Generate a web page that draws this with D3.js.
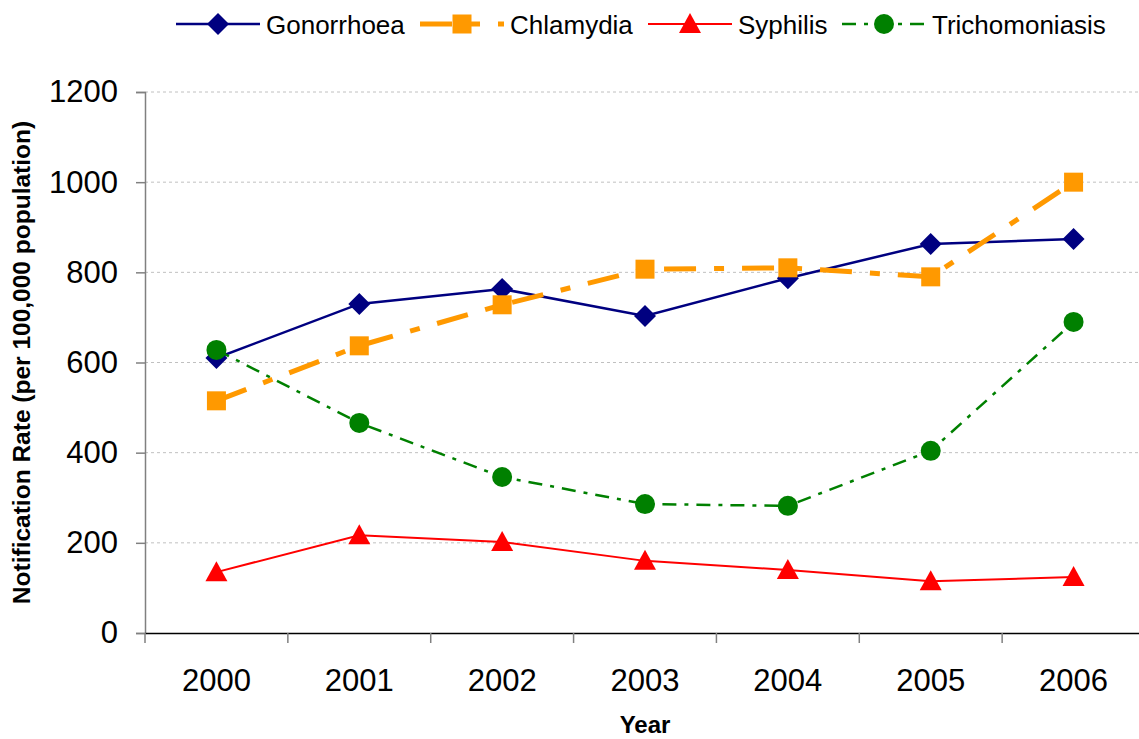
<!DOCTYPE html>
<html lang="en">
<head>
<meta charset="UTF-8">
<title>Notification rates</title>
<script src="https://d3js.org/d3.v7.min.js"></script>
<style>
  body { margin: 0; background: #fff; }
  text { font-family: "Liberation Sans", Arial, sans-serif; }
</style>
</head>
<body>
<div id="chart"></div>
<script>
// data
var years = ["2000", "2001", "2002", "2003", "2004", "2005", "2006"];
var gonorrhoea = [610, 730, 763, 703, 787, 863, 874];
var chlamydia = [515, 637, 728, 807, 810, 790, 1000];
var syphilis = [135, 217, 202, 160, 140, 115, 124];
var trichomoniasis = [628, 466, 346, 286, 282, 404, 690];
var yTicks = [0, 200, 400, 600, 800, 1000, 1200];

var series = [
  { name: "Gonorrhoea", values: gonorrhoea, color: "#000080", width: 2.5, dash: null, marker: "diamond" },
  { name: "Chlamydia", values: chlamydia, color: "#FF9900", width: 5, dash: "32,18,10,18", marker: "square" },
  { name: "Syphilis", values: syphilis, color: "#FF0000", width: 2, dash: null, marker: "triangle" },
  { name: "Trichomoniasis", values: trichomoniasis, color: "#008000", width: 2.5, dash: "14,8,4,8", marker: "circle" }
];

var W = 1139, H = 739;
var margin = { top: 92, right: -6, bottom: 106, left: 145 };

var svg = d3.select("#chart").append("svg")
  .attr("width", W).attr("height", H);

var x = d3.scaleBand().domain(years).range([margin.left, W - margin.right]);
var y = d3.scaleLinear().domain([0, 1200]).range([H - margin.bottom, margin.top]);

// gridlines
svg.append("g").selectAll("line")
  .data(yTicks.filter(function (d) { return d > 0; }))
  .enter().append("line")
  .attr("x1", margin.left).attr("x2", W)
  .attr("y1", function (d) { return y(d); }).attr("y2", function (d) { return y(d); })
  .attr("stroke", "#c0c0c0").attr("stroke-dasharray", "3,3").attr("stroke-width", 1);

// y axis
var yAxis = svg.append("g")
  .attr("transform", "translate(" + margin.left + ",0)")
  .call(d3.axisLeft(y).tickValues(yTicks).tickSize(9).tickPadding(18).tickFormat(d3.format("d")));
yAxis.select(".domain").attr("stroke", "#808080").attr("stroke-width", 1.5);
yAxis.selectAll(".tick line").attr("stroke", "#808080").attr("stroke-width", 1.5);
yAxis.selectAll(".tick text").attr("font-size", 31).attr("fill", "#000")
  .attr("font-family", "Liberation Sans, Arial, sans-serif");

// x axis
var xAxis = svg.append("g")
  .attr("transform", "translate(0," + y(0) + ")")
  .call(d3.axisBottom(x).tickSize(0).tickPadding(36));
xAxis.select(".domain").attr("stroke", "#000").attr("stroke-width", 1.5);
xAxis.selectAll(".tick text").attr("font-size", 31).attr("fill", "#000")
  .attr("font-family", "Liberation Sans, Arial, sans-serif");
// category boundary ticks
svg.append("g").selectAll("line")
  .data(years)
  .enter().append("line")
  .attr("x1", function (d) { return x(d); }).attr("x2", function (d) { return x(d); })
  .attr("y1", y(0)).attr("y2", y(0) + 10)
  .attr("stroke", "#808080").attr("stroke-width", 1.5);

// axis titles
svg.append("text")
  .attr("transform", "translate(30," + ((y(0) + y(1200)) / 2) + ") rotate(-90)")
  .attr("text-anchor", "middle")
  .attr("font-size", 24.5).attr("font-weight", "bold")
  .text("Notification Rate (per 100,000 population)");
svg.append("text")
  .attr("x", 645).attr("y", 733)
  .attr("text-anchor", "middle")
  .attr("font-size", 24).attr("font-weight", "bold")
  .text("Year");

function drawMarker(g, type, cx, cy, color) {
  if (type === "diamond") {
    g.append("path").attr("d", "M" + cx + "," + (cy - 11) + "L" + (cx + 11) + "," + cy + "L" + cx + "," + (cy + 11) + "L" + (cx - 11) + "," + cy + "Z")
      .attr("fill", color);
  } else if (type === "square") {
    g.append("rect").attr("x", cx - 9.5).attr("y", cy - 9.5).attr("width", 19).attr("height", 19).attr("fill", color);
  } else if (type === "triangle") {
    g.append("path").attr("d", "M" + cx + "," + (cy - 11) + "L" + (cx + 11) + "," + (cy + 9) + "L" + (cx - 11) + "," + (cy + 9) + "Z")
      .attr("fill", color);
  } else {
    g.append("circle").attr("cx", cx).attr("cy", cy).attr("r", 10).attr("fill", color);
  }
}

var line = d3.line()
  .x(function (d, i) { return x(years[i]) + x.bandwidth() / 2; })
  .y(function (d) { return y(d); });

// series: line then markers, in order
series.forEach(function (s) {
  var g = svg.append("g");
  g.append("path")
    .attr("d", line(s.values))
    .attr("fill", "none")
    .attr("stroke", s.color)
    .attr("stroke-width", s.width)
    .attr("stroke-dasharray", s.dash);
  s.values.forEach(function (v, i) {
    drawMarker(g, s.marker, x(years[i]) + x.bandwidth() / 2, y(v), s.color);
  });
});

// legend
var legendX = [176, 420, 648, 842];
var legendY = 24;
series.forEach(function (s, i) {
  var g = svg.append("g").attr("transform", "translate(" + legendX[i] + "," + legendY + ")");
  g.append("line").attr("x1", 0).attr("x2", 84).attr("y1", 0).attr("y2", 0)
    .attr("stroke", s.color).attr("stroke-width", s.width)
    .attr("stroke-dasharray", s.dash);
  drawMarker(g, s.marker, 42, 0, s.color);
  g.append("text").attr("x", 90).attr("y", 10)
    .attr("font-size", 26).attr("fill", "#000")
    .text(s.name);
});
</script>
</body>
</html>
